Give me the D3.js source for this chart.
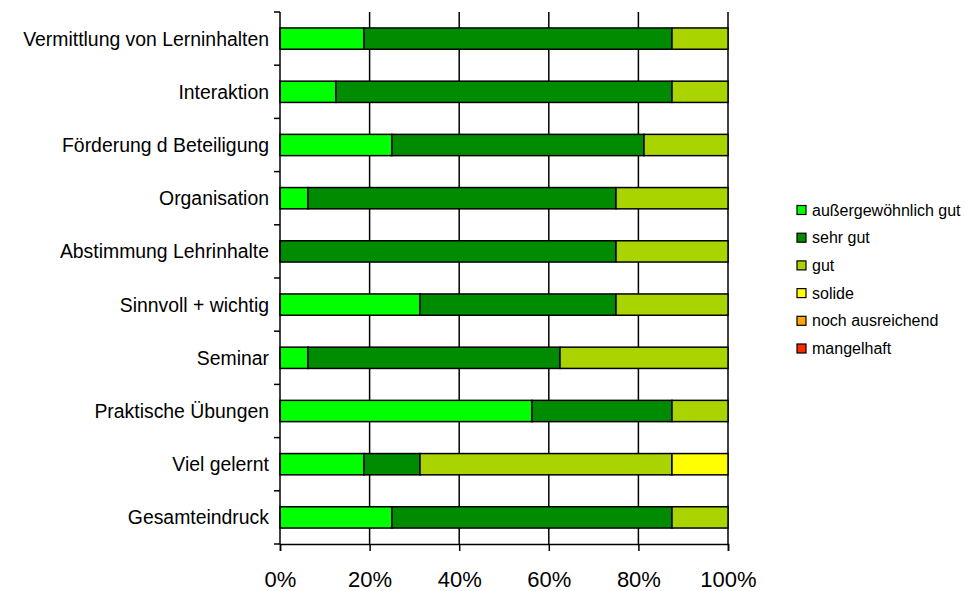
<!DOCTYPE html>
<html>
<head>
<meta charset="utf-8">
<script src="https://cdn.jsdelivr.net/npm/d3@7"></script>
<style>
  html, body { margin: 0; padding: 0; background: #fff; }
  svg { display: block; font-family: "Liberation Sans", Arial, sans-serif; }
</style>
</head>
<body>
<svg id="chart" width="965" height="591"></svg>
<script>
// Survey categories, top to bottom
const categories = [
  "Vermittlung von Lerninhalten",
  "Interaktion",
  "Förderung d Beteiligung",
  "Organisation",
  "Abstimmung Lehrinhalte",
  "Sinnvoll + wichtig",
  "Seminar",
  "Praktische Übungen",
  "Viel gelernt",
  "Gesamteindruck"
];

// Rating levels (legend order) and their colours
const seriesNames = ["außergewöhnlich gut", "sehr gut", "gut", "solide", "noch ausreichend", "mangelhaft"];
const seriesColors = ["#00FF00", "#008C00", "#AAD400", "#FFFF00", "#FFA500", "#FF2A00"];

// Share of answers per level, in percent
const aussergewoehnlichGut = [18.75, 12.5, 25, 6.25, 0, 31.25, 6.25, 56.25, 18.75, 25];
const sehrGut              = [68.75, 75, 56.25, 68.75, 75, 43.75, 56.25, 31.25, 12.5, 62.5];
const gut                  = [12.5, 12.5, 18.75, 25, 25, 25, 37.5, 12.5, 56.25, 12.5];
const solide               = [0, 0, 0, 0, 0, 0, 0, 0, 12.5, 0];
const nochAusreichend      = [0, 0, 0, 0, 0, 0, 0, 0, 0, 0];
const mangelhaft           = [0, 0, 0, 0, 0, 0, 0, 0, 0, 0];

const xTicks = [0, 20, 40, 60, 80, 100];

const seriesValues = [aussergewoehnlichGut, sehrGut, gut, solide, nochAusreichend, mangelhaft];

const rows = categories.map((c, i) => {
  const r = { category: c };
  seriesNames.forEach((s, k) => { r[s] = seriesValues[k][i]; });
  return r;
});

const svg = d3.select("#chart");
const plotLeft = 280, plotRight = 728, plotTop = 12, plotBottom = 544;

const x = d3.scaleLinear().domain([0, 100]).range([plotLeft, plotRight]);
const y = d3.scaleBand().domain(categories).range([plotTop, plotBottom])
  .paddingInner(0.6).paddingOuter(0.3);

// vertical gridlines
svg.append("g").selectAll("line")
  .data(xTicks.filter(t => t > 0))
  .join("line")
  .attr("x1", d => x(d)).attr("x2", d => x(d))
  .attr("y1", plotTop).attr("y2", plotBottom)
  .attr("stroke", "#000").attr("stroke-width", 1.5);

// stacked bars
const stack = d3.stack().keys(seriesNames)(rows);
const color = d3.scaleOrdinal().domain(seriesNames).range(seriesColors);

svg.append("g").selectAll("g")
  .data(stack)
  .join("g")
  .attr("fill", d => color(d.key))
  .selectAll("rect")
  .data(d => d.filter(p => p[1] - p[0] > 0))
  .join("rect")
  .attr("x", d => x(d[0]))
  .attr("width", d => x(d[1]) - x(d[0]))
  .attr("y", d => y(d.data.category))
  .attr("height", y.bandwidth())
  .attr("stroke", "#000")
  .attr("stroke-width", 1.5);

// x axis
const xAxis = d3.axisBottom(x).tickValues(xTicks).tickFormat(d => d + "%")
  .tickSize(7).tickPadding(20);
const gx = svg.append("g").attr("transform", `translate(0,${plotBottom})`).call(xAxis);
gx.select(".domain").attr("stroke", "#000").attr("stroke-width", 1.5);
gx.selectAll(".tick line").attr("stroke", "#000").attr("stroke-width", 1.5);
gx.selectAll(".tick text")
  .attr("font-size", 22).attr("fill", "#000")
  .attr("font-family", "'Liberation Sans', Arial, sans-serif");

// y axis: line with ticks at the category boundaries
const step = y.step();
const boundaries = d3.range(categories.length + 1).map(i => plotTop + i * step);
svg.append("line")
  .attr("x1", plotLeft).attr("x2", plotLeft).attr("y1", plotTop).attr("y2", plotBottom)
  .attr("stroke", "#000").attr("stroke-width", 1.5);
svg.append("g").selectAll("line")
  .data(boundaries)
  .join("line")
  .attr("x1", plotLeft - 6).attr("x2", plotLeft)
  .attr("y1", d => d).attr("y2", d => d)
  .attr("stroke", "#000").attr("stroke-width", 1.5);

svg.append("g").selectAll("text")
  .data(categories)
  .join("text")
  .attr("x", plotLeft - 11)
  .attr("y", d => y(d) + y.bandwidth() / 2)
  .attr("dy", "0.36em")
  .attr("text-anchor", "end")
  .attr("font-size", 19.4)
  .attr("fill", "#000")
  .text(d => d);

// legend
const legend = svg.append("g").attr("transform", "translate(797,210)");
const item = legend.selectAll("g")
  .data(seriesNames)
  .join("g")
  .attr("transform", (d, i) => `translate(0,${i * 27.7})`);
item.append("rect")
  .attr("x", 0).attr("y", -4.5).attr("width", 9).attr("height", 9)
  .attr("fill", d => color(d))
  .attr("stroke", "#000").attr("stroke-width", 1.2);
item.append("text")
  .attr("x", 15).attr("y", 0).attr("dy", "0.35em")
  .attr("font-size", 16).attr("fill", "#000")
  .text(d => d);
</script>
</body>
</html>
